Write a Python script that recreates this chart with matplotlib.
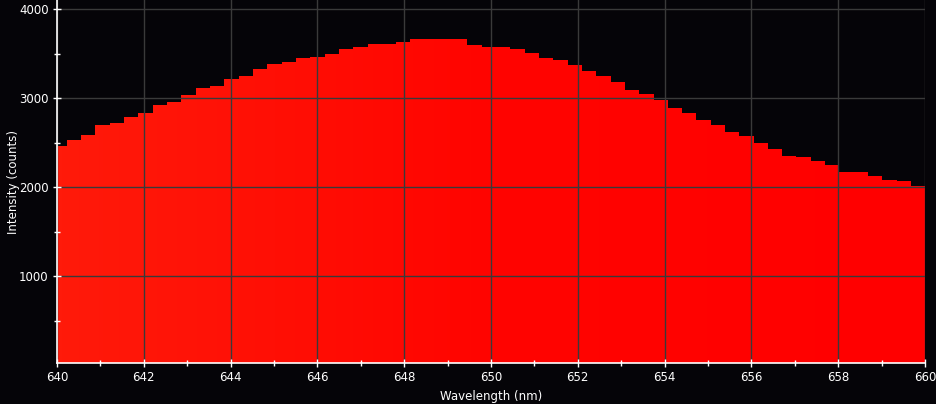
import numpy as np
import matplotlib
matplotlib.use("Agg")
import matplotlib.pyplot as plt
from matplotlib.colors import LinearSegmentedColormap

# spectrometer pixel centres (nm) and counts
wavelength = [640.07, 640.39, 640.72, 641.05, 641.38, 641.71, 642.04, 642.37, 642.70, 643.03,
              643.36, 643.69, 644.02, 644.35, 644.68, 645.01, 645.34, 645.67, 646.00, 646.33,
              646.66, 646.99, 647.32, 647.64, 647.97, 648.30, 648.63, 648.96, 649.29, 649.62,
              649.95, 650.28, 650.61, 650.94, 651.27, 651.60, 651.93, 652.26, 652.59, 652.92,
              653.25, 653.58, 653.91, 654.24, 654.57, 654.90, 655.23, 655.56, 655.89, 656.22,
              656.54, 656.87, 657.20, 657.53, 657.86, 658.19, 658.52, 658.85, 659.18, 659.51,
              659.84]
counts = [2467, 2535, 2591, 2700, 2722, 2790, 2834, 2925, 2958, 3037,
          3116, 3138, 3217, 3251, 3329, 3385, 3408, 3453, 3464, 3498,
          3554, 3576, 3610, 3610, 3633, 3667, 3667, 3667, 3667, 3599,
          3576, 3576, 3554, 3509, 3453, 3430, 3374, 3307, 3251, 3183,
          3094, 3049, 2981, 2891, 2834, 2756, 2700, 2621, 2576, 2498,
          2430, 2352, 2340, 2295, 2250, 2172, 2172, 2127, 2082, 2071,
          2015]

xticks = [640, 642, 644, 646, 648, 650, 652, 654, 656, 658, 660]
yticks = [1000, 2000, 3000, 4000]

bg = "#050408"
grid_col = "#3a3a3a"

wl = np.array(wavelength)
mid = (wl[1:] + wl[:-1]) / 2
step = wl[1] - wl[0]
edges = np.concatenate([[wl[0] - step / 2], mid, [wl[-1] + step / 2]])

fig = plt.figure(figsize=(9.37, 4.04), dpi=100, facecolor=bg)
ax = fig.add_axes([57 / 937, 41 / 404, 868 / 937, 363 / 404])
ax.set_facecolor(bg)

ax.set_xlim(640, 660)
ax.set_ylim(26, 4104)

# filled histogram, coloured with a slight orange->red gradient
patch = ax.stairs(counts, edges, fill=True, color="#ff0000", lw=0, zorder=1)
cmap = LinearSegmentedColormap.from_list("spec", ["#ff1a0a", "#ff0400", "#ff0000"])
grad = np.linspace(0, 1, 256).reshape(1, -1)
img = ax.imshow(grad, extent=[640, 660, 0, 4104], aspect="auto", cmap=cmap,
                origin="lower", zorder=2, interpolation="bilinear")
img.set_clip_path(patch)

ax.set_xticks(xticks)
ax.set_xticks(np.arange(641, 660, 2), minor=True)
ax.set_yticks(yticks)
ax.set_yticks([500, 1500, 2500, 3500], minor=True)

ax.grid(True, which="major", color=grid_col, lw=1, zorder=3)
ax.set_axisbelow(False)

for s in ["top", "right"]:
    ax.spines[s].set_visible(False)
for s in ["left", "bottom"]:
    ax.spines[s].set_color("white")
    ax.spines[s].set_linewidth(1.2)
    ax.spines[s].set_zorder(4)

ax.tick_params(which="major", direction="inout", length=6, width=1, colors="white",
               labelsize=8.5, pad=3)
ax.tick_params(which="minor", direction="inout", length=5, width=1, colors="white")

ax.set_xlabel("Wavelength (nm)", color="white", fontsize=8.5, labelpad=4)
ax.set_ylabel("Intensity (counts)", color="white", fontsize=8.5)
ax.yaxis.set_label_coords(-0.043, 0.5)

fig.savefig("out.png", dpi=100, facecolor=bg)
